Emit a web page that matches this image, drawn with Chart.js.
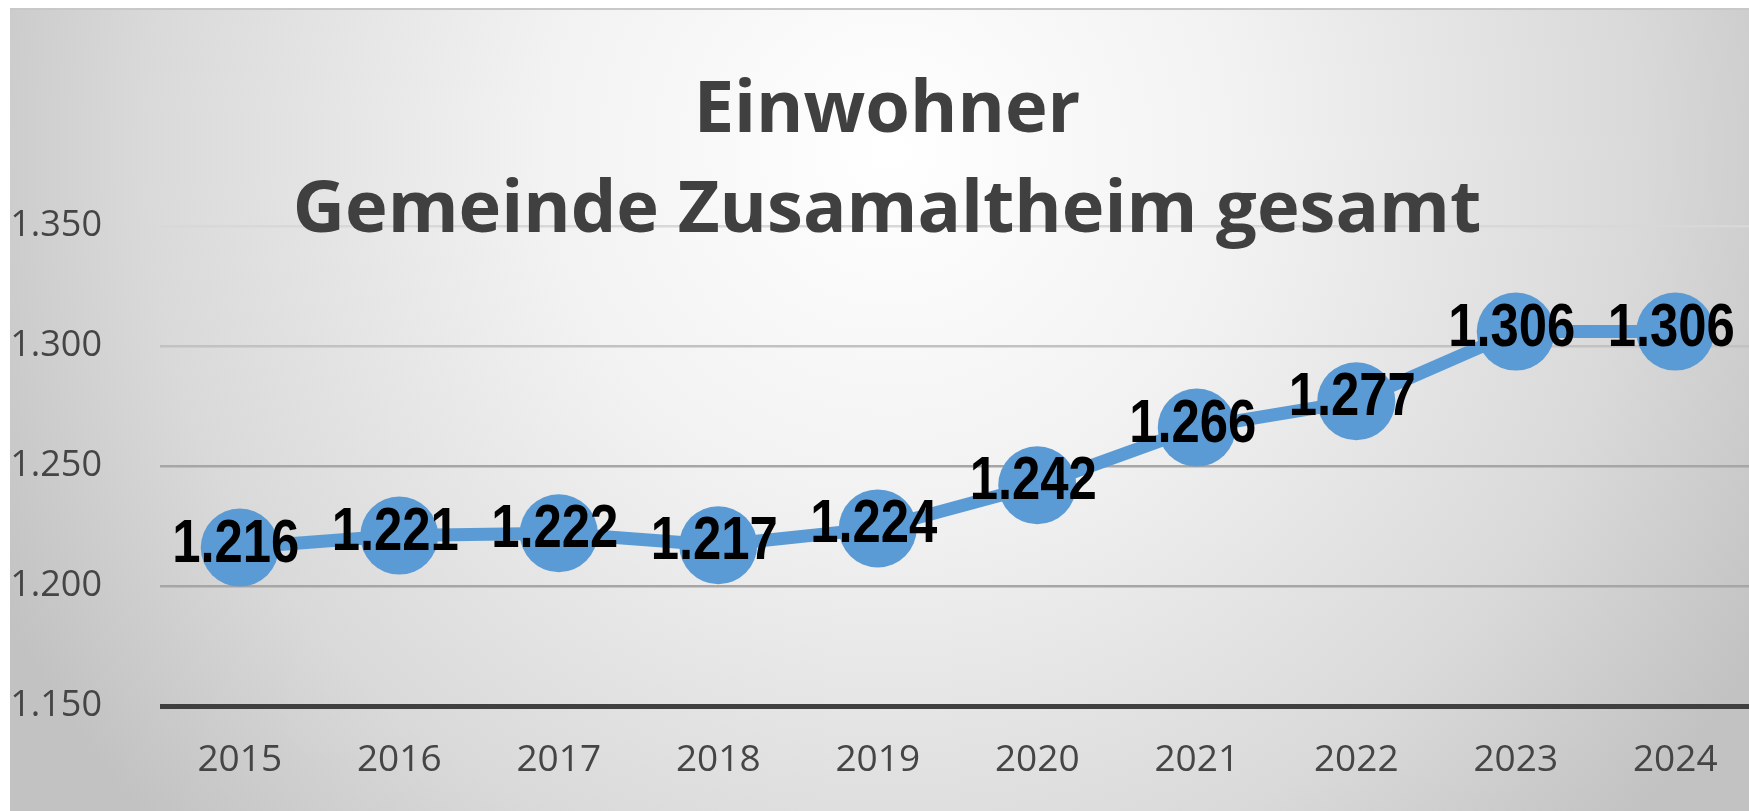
<!DOCTYPE html>
<html>
<head>
<meta charset="utf-8">
<script src="https://cdn.jsdelivr.net/npm/chart.js@4"></script>
<style>
  html, body { margin: 0; padding: 0; overflow: hidden; background: #fff; }
  canvas { display: block; }
</style>
</head>
<body>
<canvas id="einwohner-chart" width="1760" height="811"></canvas>
<script>
const years = ['2015', '2016', '2017', '2018', '2019', '2020', '2021', '2022', '2023', '2024']
const einwohner = [1216, 1221, 1222, 1217, 1224, 1242, 1266, 1277, 1306, 1306]
const titleLines = ['Einwohner', 'Gemeinde Zusamaltheim gesamt']
const yMin = 1150
const yMax = 1350
const yStep = 50

const fmt = v => v.toLocaleString('de-DE')

// background panel like the Excel chart area
const backgroundPlugin = {
  id: 'panel',
  beforeDraw(chart) {
    const ctx = chart.ctx
    ctx.save()
    ctx.fillStyle = '#ffffff'
    ctx.fillRect(0, 0, chart.width, chart.height)
    const g = ctx.createRadialGradient(890, 150, 0, 890, 150, 1000)
    g.addColorStop(0, '#ffffff')
    g.addColorStop(0.35, '#f2f2f2')
    g.addColorStop(0.75, '#d9d9d9')
    g.addColorStop(1, '#c2c2c2')
    ctx.fillStyle = g
    ctx.fillRect(10, 9, chart.width - 10, chart.height - 9)
    ctx.fillStyle = '#c8c8c8'
    ctx.fillRect(10, 8, chart.width - 10, 2)
    ctx.restore()
  }
}

const titlePlugin = {
  id: 'bigTitle',
  afterDraw(chart) {
    const ctx = chart.ctx
    ctx.save()
    ctx.font = 'bold 100px "Open Sans"'
    const size = 100 * 1188 / ctx.measureText(titleLines[1]).width
    ctx.font = 'bold ' + size.toFixed(1) + 'px "Open Sans"'
    ctx.fillStyle = '#404040'
    ctx.textAlign = 'center'
    ctx.textBaseline = 'alphabetic'
    ctx.fillText(titleLines[0], 887, 132)
    ctx.fillText(titleLines[1], 887, 232)
    ctx.restore()
  }
}

const valueLabelPlugin = {
  id: 'valueLabels',
  afterDatasetsDraw(chart) {
    const ctx = chart.ctx
    ctx.save()
    ctx.font = 'bold 50px monospace'
    const mono = ctx.measureText('1.216').width
    ctx.font = 'bold 50px "Liberation Sans Narrow", monospace'
    const hasNarrow = ctx.measureText('1.216').width !== mono
    ctx.font = hasNarrow ? 'bold 62px "Liberation Sans Narrow"' : 'bold 62px "Liberation Sans"'
    ctx.fillStyle = '#000000'
    ctx.textAlign = 'center'
    ctx.textBaseline = 'middle'
    const meta = chart.getDatasetMeta(0)
    meta.data.forEach((pt, i) => {
      const text = fmt(chart.data.datasets[0].data[i])
      ctx.save()
      ctx.translate(pt.x - 4, pt.y - 3)
      if (!hasNarrow) ctx.scale(0.82, 1)
      ctx.fillText(text, 0, 0)
      ctx.restore()
    })
    ctx.restore()
  }
}

new Chart(document.querySelector('#einwohner-chart'), {
  type: 'line',
  data: {
    labels: years,
    datasets: [{
      data: einwohner,
      borderColor: '#5b9bd5',
      borderWidth: 13,
      backgroundColor: '#5b9bd5',
      pointBackgroundColor: '#5b9bd5',
      pointBorderWidth: 0,
      pointRadius: 39,
      pointHoverRadius: 39,
      tension: 0,
      clip: false
    }]
  },
  options: {
    responsive: false,
    animation: false,
    layout: {
      autoPadding: false,
      padding: { top: 226, right: 5, left: 0, bottom: 0 }
    },
    plugins: {
      legend: { display: false },
      title: { display: false },
      tooltip: { enabled: false }
    },
    scales: {
      x: {
        offset: true,
        grid: { display: false, drawTicks: false },
        border: { display: false },
        ticks: {
          color: '#454545',
          font: { family: '"Open Sans"', size: 37 },
          padding: 32
        },
        afterFit(scale) {
          scale.height = 105
          scale.paddingLeft = 0
          scale.paddingRight = 0
        }
      },
      y: {
        min: yMin,
        max: yMax,
        border: { display: false },
        grid: {
          drawTicks: false,
          color: c => {
            const v = c.tick && c.tick.value
            if (v === 1150) return '#404040'
            if (v === 1350) return '#d8d8d8'
            if (v === 1300) return '#c2c2c2'
            return '#a6a6a6'
          },
          lineWidth: c => (c.tick && c.tick.value === 1150) ? 5 : 2.5
        },
        ticks: {
          stepSize: yStep,
          color: '#454545',
          font: { family: '"Open Sans"', size: 36 },
          padding: 58,
          callback: v => fmt(v)
        },
        afterFit(scale) {
          scale.width = 160
          scale.paddingTop = 0
          scale.paddingBottom = 0
        }
      }
    }
  },
  plugins: [backgroundPlugin, titlePlugin, valueLabelPlugin]
})
</script>
</body>
</html>
